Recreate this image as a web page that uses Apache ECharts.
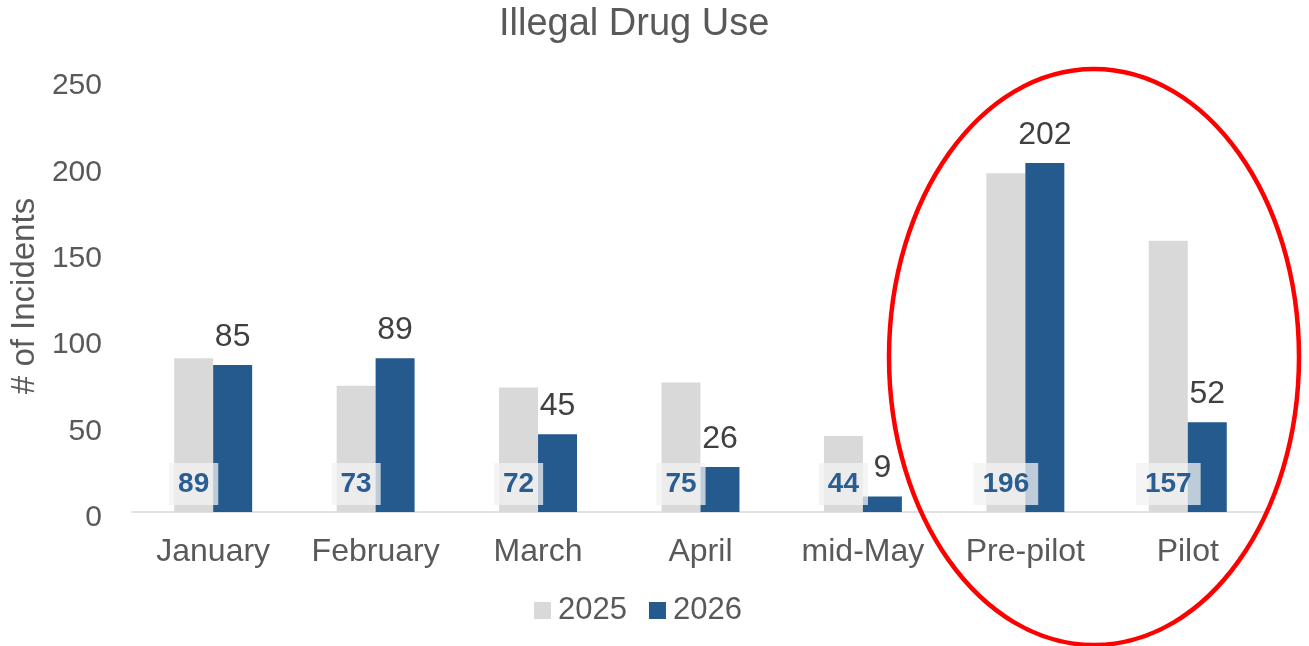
<!DOCTYPE html>
<html>
<head>
<meta charset="utf-8">
<script src="https://cdn.jsdelivr.net/npm/echarts@6/dist/echarts.min.js"></script>
<style>html,body{margin:0;padding:0;background:#fff;}#chart{width:1309px;height:646px;}</style>
</head>
<body>
<div id="chart"></div>
<script>
var categories = ['January', 'February', 'March', 'April', 'mid-May', 'Pre-pilot', 'Pilot'];
var values2025 = [89, 73, 72, 75, 44, 196, 157];
var values2026 = [85, 89, 45, 26, 9, 202, 52];
var seriesNames = ['2025', '2026'];
var yTicks = { min: 0, max: 250, interval: 50 };

var FONT = "'Liberation Sans', Arial, sans-serif";
var chart = echarts.init(document.getElementById('chart'), null, { renderer: 'canvas' });
chart.setOption({
  animation: false,
  backgroundColor: '#ffffff',
  title: {
    text: 'Illegal Drug Use',
    left: 494,
    top: 1,
    textStyle: { fontFamily: FONT, fontSize: 38, fontWeight: 'normal', color: '#595959' }
  },
  legend: {
    bottom: 15,
    left: 529,
    itemWidth: 17,
    itemHeight: 17,
    itemGap: 22,
    icon: 'rect',
    textStyle: { fontFamily: FONT, fontSize: 31, color: '#595959', padding: [0, 0, 0, 2] },
    data: seriesNames
  },
  grid: { left: 128, right: 40, top: 80, bottom: 134, containLabel: false },
  xAxis: {
    type: 'category',
    data: categories,
    axisLine: { show: true, lineStyle: { color: '#d9d9d9', width: 1.5 } },
    axisTick: { show: false },
    axisLabel: { interval: 0, fontFamily: FONT, fontSize: 32, color: '#595959', margin: 24 }
  },
  yAxis: {
    type: 'value',
    min: yTicks.min,
    max: yTicks.max,
    interval: yTicks.interval,
    name: '# of Incidents',
    nameLocation: 'middle',
    nameGap: 84,
    nameTextStyle: { fontFamily: FONT, fontSize: 33, color: '#595959' },
    axisLine: { show: false },
    axisTick: { show: false },
    splitLine: { show: false },
    axisLabel: { fontFamily: FONT, fontSize: 30, color: '#595959', margin: 30, verticalAlign: 'top', lineHeight: 12 }
  },
  series: [
    {
      name: seriesNames[0],
      type: 'bar',
      data: values2025,
      barGap: '0%',
      barCategoryGap: '52%',
      itemStyle: { color: '#d9d9d9' },
      label: {
        show: true,
        position: 'insideBottom',
        distance: 7,
        fontFamily: FONT,
        fontSize: 28,
        fontWeight: 'bold',
        color: '#2a5d91',
        backgroundColor: 'rgba(242,242,242,0.75)',
        padding: [6, 9, 6, 9],
        lineHeight: 30
      }
    },
    {
      name: seriesNames[1],
      type: 'bar',
      data: values2026,
      barGap: '0%',
      barCategoryGap: '52%',
      itemStyle: { color: '#245a8e' },
      label: {
        show: true,
        position: 'top',
        distance: 12,
        fontFamily: FONT,
        fontSize: 32,
        color: '#404040'
      }
    }
  ],
  graphic: [
    {
      type: 'ellipse',
      shape: { cx: 1094, cy: 357, rx: 205, ry: 288 },
      style: { fill: 'none', stroke: '#ff0000', lineWidth: 4.5 },
      z: 100
    }
  ]
});
</script>
</body>
</html>
